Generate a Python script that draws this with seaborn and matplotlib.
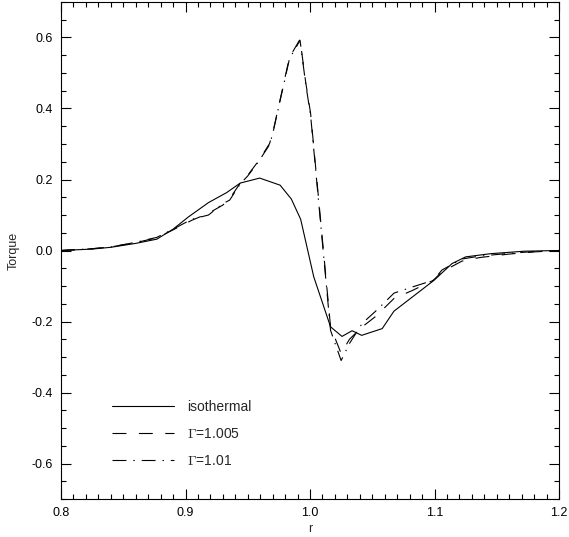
import numpy as np
import pandas as pd
import matplotlib
matplotlib.use("Agg")
import matplotlib.pyplot as plt
from matplotlib.ticker import MultipleLocator
import seaborn as sns

# isothermal run
r_iso = [0.800, 0.825, 0.840, 0.860, 0.877, 0.890, 0.9025, 0.9185, 0.933, 0.944,
         0.9596, 0.976, 0.985, 0.9925, 1.003, 1.0165, 1.0257, 1.0338, 1.0415,
         1.058, 1.0674, 1.0996, 1.114, 1.125, 1.145, 1.172, 1.200]
tq_iso = [0.000, 0.004, 0.009, 0.020, 0.032, 0.060, 0.095, 0.135, 0.163, 0.190,
          0.204, 0.184, 0.145, 0.088, -0.074, -0.215, -0.242, -0.226, -0.239,
          -0.220, -0.171, -0.084, -0.037, -0.018, -0.009, -0.002, 0.000]

# adiabatic runs
r_gam = [0.800, 0.825, 0.840, 0.860, 0.877, 0.890, 0.905, 0.9185, 0.930, 0.9355,
         0.944, 0.950, 0.959, 0.9675, 0.970, 0.9835, 0.992, 0.9965, 1.0005,
         1.0165, 1.025, 1.0317, 1.042, 1.053, 1.0675, 1.082, 1.099, 1.106,
         1.122, 1.136, 1.160, 1.180, 1.200]
tq_g1005 = [0.000, 0.005, 0.010, 0.022, 0.036, 0.058, 0.085, 0.105, 0.128, 0.146,
            0.190, 0.212, 0.254, 0.301, 0.330, 0.544, 0.595, 0.475, 0.386,
            -0.215, -0.290, -0.250, -0.215, -0.185, -0.135, -0.113, -0.084,
            -0.060, -0.030, -0.020, -0.010, -0.004, 0.000]
tq_g101 = [0.000, 0.005, 0.010, 0.023, 0.037, 0.060, 0.088, 0.100, 0.132, 0.142,
           0.188, 0.210, 0.252, 0.298, 0.328, 0.540, 0.592, 0.470, 0.380,
           -0.225, -0.310, -0.262, -0.205, -0.170, -0.120, -0.103, -0.084,
           -0.055, -0.024, -0.016, -0.008, -0.003, 0.000]

labels = ["isothermal", r"$\Gamma$=1.005", r"$\Gamma$=1.01"]

sns.set_style("ticks")
plt.rcParams["font.family"] = ["Liberation Sans", "DejaVu Sans"]
plt.rcParams["mathtext.fontset"] = "cm"
plt.rcParams["axes.unicode_minus"] = False
plt.rcParams["lines.scale_dashes"] = False

fig = plt.figure(figsize=(5.69, 5.37), dpi=100)
ax = fig.add_axes([61 / 569, 1 - 499 / 537, 498 / 569, 497 / 537])

sns.lineplot(x=r_iso, y=tq_iso, sort=False, estimator=None, color="black",
             lw=0.8, label=labels[0], ax=ax)
sns.lineplot(x=r_gam, y=tq_g1005, sort=False, estimator=None, color="black",
             lw=0.8, dashes=(10, 9), label=labels[1], ax=ax)
sns.lineplot(x=r_gam, y=tq_g101, sort=False, estimator=None, color="black",
             lw=0.8, dashes=(10, 5, 1, 5), label=labels[2], ax=ax)

ax.set_xlim(0.8, 1.2)
ax.set_ylim(-0.7, 0.7)
ax.xaxis.set_major_locator(MultipleLocator(0.1))
ax.xaxis.set_minor_locator(MultipleLocator(0.01))
ax.yaxis.set_major_locator(MultipleLocator(0.2))
ax.yaxis.set_minor_locator(MultipleLocator(0.05))
ax.xaxis.set_major_formatter(matplotlib.ticker.FormatStrFormatter("%.1f"))
ax.yaxis.set_major_formatter(matplotlib.ticker.FormatStrFormatter("%.1f"))
ax.tick_params(which="both", direction="in", top=True, right=True,
               labelsize=9, width=0.8, colors="black")
ax.tick_params(which="major", length=7, pad=6)
ax.tick_params(which="minor", length=3.5)
for s in ax.spines.values():
    s.set_visible(True)
    s.set_linewidth(0.8)
    s.set_color("black")

ax.set_xlabel("r", fontsize=9, labelpad=3)
ax.set_ylabel("Torque", fontsize=9, labelpad=8)

ax.legend(loc="upper left", bbox_to_anchor=(0.077, 0.225), frameon=False,
          fontsize=10, handlelength=4.5, handletextpad=0.9, labelspacing=0.95)

fig.savefig("out.png", dpi=100)
